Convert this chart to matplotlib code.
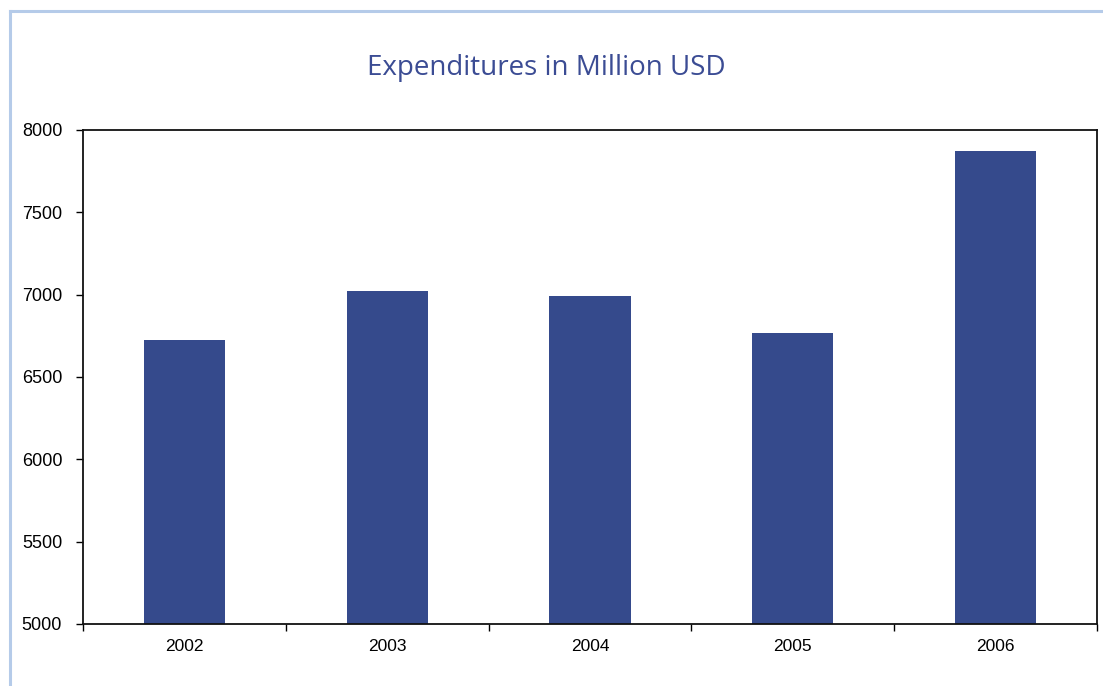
import matplotlib.pyplot as plt
import numpy as np
from matplotlib.lines import Line2D

# Yearly expenditure figures (million USD)
years = ["2002", "2003", "2004", "2005", "2006"]
expenditures = [6725, 7022, 6992, 6767, 7873]

bar_color = "#354a8c"
title_color = "#3b4c94"
frame_color = "#b5cbe9"

plt.rcParams["font.family"] = ["Liberation Sans", "DejaVu Sans"]

fig = plt.figure(figsize=(11.03, 6.86), dpi=100)
ax = fig.add_axes([83 / 1103, 1 - 624 / 686, (1097 - 83) / 1103, (624 - 130) / 686])

x = np.arange(len(years))
ax.bar(x, np.array(expenditures) - 5000, bottom=5000, width=0.40, color=bar_color)

ax.set_xlim(-0.5, len(years) - 0.5)
ax.set_ylim(5000, 8000)
ax.set_yticks(np.arange(5000, 8001, 500))
ax.set_xticks(x)
ax.set_xticklabels(years)
ax.set_xticks(np.arange(-0.5, len(years)), minor=True)

ax.tick_params(axis="x", which="major", length=0, pad=11, labelsize=12.5)
ax.tick_params(axis="x", which="minor", length=5, width=1.0, direction="out")
ax.tick_params(axis="y", length=5, width=1.0, pad=10, labelsize=13)

for side in ["left", "right", "top", "bottom"]:
    ax.spines[side].set_linewidth(1.3)
    ax.spines[side].set_color("#111111")

fig.text(546 / 1103, 1 - 68 / 686, "Expenditures in Million USD", ha="center", va="center",
         fontsize=20, color=title_color, family=["Open Sans", "DejaVu Sans"])

# light blue border along the left and top edges
fig.add_artist(Line2D([10 / 1103, 10 / 1103], [0, 1 - 11 / 686], transform=fig.transFigure,
                      color=frame_color, linewidth=2.2))
fig.add_artist(Line2D([10 / 1103, 1], [1 - 11 / 686, 1 - 11 / 686], transform=fig.transFigure,
                      color=frame_color, linewidth=2.2))

fig.savefig("out.png", dpi=100)
